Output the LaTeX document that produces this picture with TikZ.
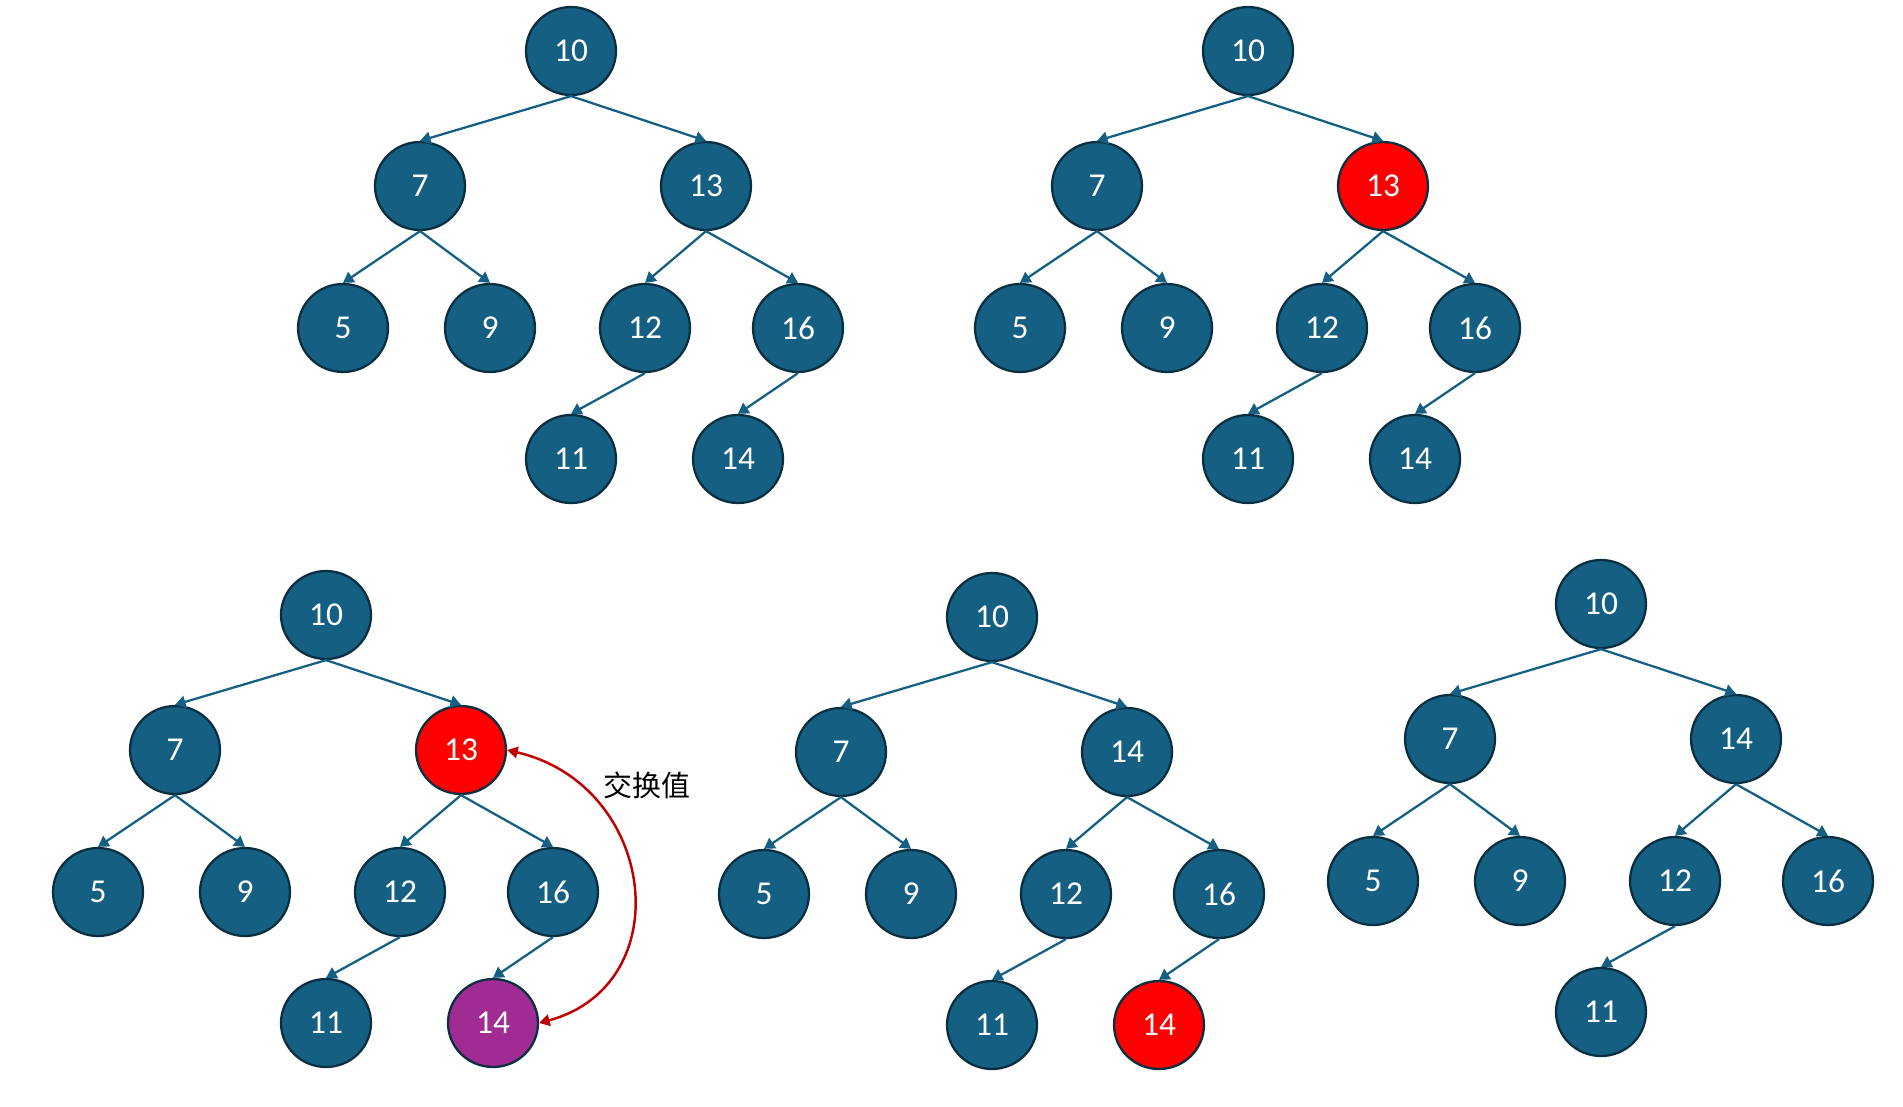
\documentclass[tikz,border=0pt]{standalone}
\usepackage{fontspec}
\setmainfont{Carlito}
\newfontfamily\cjk{Noto Sans CJK SC}
\usetikzlibrary{arrows.meta,shapes.geometric,calc}
\definecolor{nodeblue}{HTML}{156082}
\definecolor{nodeline}{HTML}{0A2F41}
\definecolor{hilite}{HTML}{FF0000}
\definecolor{swapc}{HTML}{A02B93}
\definecolor{arrowred}{HTML}{C00000}
\newcommand\treebase[4]{%
 \begin{scope}[shift={#2}]
  \node[tnode] (#1r) at (571,51) {10};
  \node[tnode] (#1a) at (420,186) {7};
  \node[#3] (#1b) at (706,186) {#4};
  \node[tnode] (#1c) at (343,328) {5};
  \node[tnode] (#1d) at (490,328) {9};
  \node[tnode] (#1e) at (645,328) {12};
  \node[tnode] (#1f) at (798,328) {16};
  \node[tnode] (#1g) at (571,459) {11};
 \end{scope}
 \draw[tedge] (#1r.south) -- (#1a.north);
 \draw[tedge] (#1r.south) -- (#1b.north);
 \draw[tedge] (#1a.south) -- (#1c.north);
 \draw[tedge] (#1a.south) -- (#1d.north);
 \draw[tedge] (#1b.south) -- (#1e.north);
 \draw[tedge] (#1b.south) -- (#1f.north);
 \draw[tedge] (#1e.south) -- (#1g.north);
}
\begin{document}
\begin{tikzpicture}[x=0.02cm,y=-0.02cm,
  tnode/.style={ellipse, draw=nodeline, line width=1.3pt, fill=nodeblue, text=white,
    minimum width=1.8cm, minimum height=1.76cm, inner sep=0pt,
    font=\fontsize{19}{22}\selectfont},
  rednode/.style={tnode, fill=hilite},
  purnode/.style={tnode, fill=swapc},
  tedge/.style={draw=nodeblue, line width=1.3pt, -{Triangle[length=6pt,width=7pt]}},
  swaparrow/.style={draw=arrowred, line width=1.4pt, {Triangle[length=6pt,width=6.5pt]}-{Triangle[length=6pt,width=6.5pt]}},
]
\useasboundingbox (0,0) rectangle (1903,1106);

% tree 1
\treebase{A}{(0,0)}{tnode}{13}
\node[tnode] (Ah) at (738,459) {14};
\draw[tedge] (Af.south) -- (Ah.north);

% tree 2
\treebase{B}{(677,0)}{rednode}{13}
\node[tnode] (Bh) at (1415,459) {14};
\draw[tedge] (Bf.south) -- (Bh.north);

% tree 3
\treebase{C}{(-245,564)}{rednode}{13}
\node[purnode] (Ch) at (493,1023) {14};
\draw[tedge] (Cf.south) -- (Ch.north);
\draw[swaparrow] (Cb.east) .. controls ($(Cb.east)+(150,35)$) and ($(Ch.east)+(141,-38)$) .. (Ch.east);
\node[font=\cjk\fontsize{16.5}{18}\selectfont] (swaplbl) at (647,785) {交换值};

% tree 4
\treebase{D}{(421,566)}{tnode}{14}
\node[rednode] (Dh) at (1159,1025) {14};
\draw[tedge] (Df.south) -- (Dh.north);

% tree 5
\treebase{E}{(1030,553)}{tnode}{14}
\end{tikzpicture}
\end{document}
